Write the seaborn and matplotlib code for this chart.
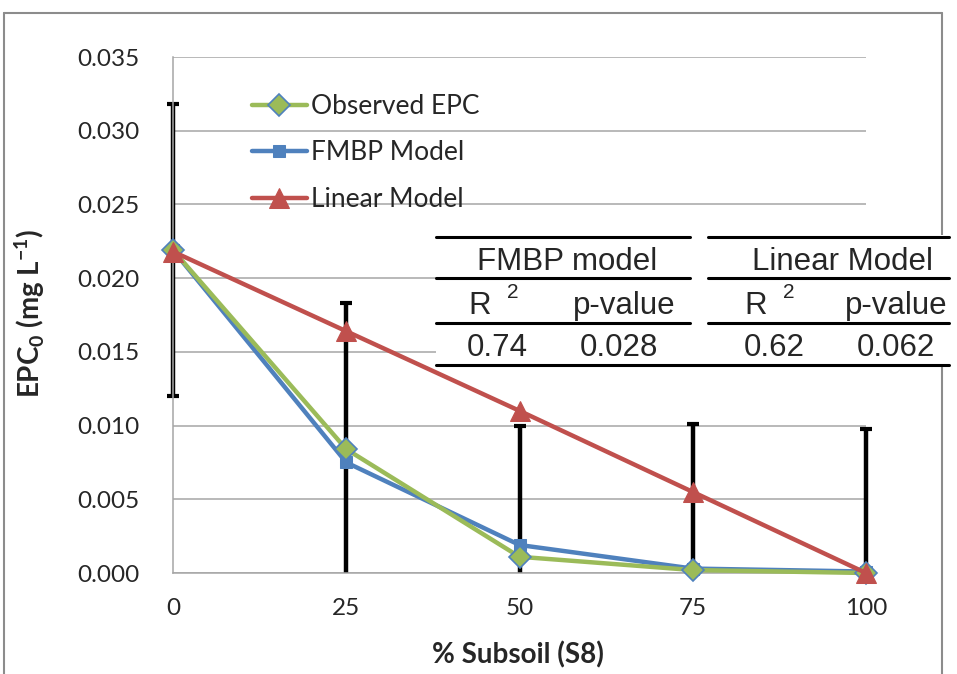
import matplotlib
matplotlib.use("Agg")
import matplotlib.pyplot as plt
import seaborn as sns
import pandas as pd
from matplotlib.lines import Line2D
from matplotlib.patches import Rectangle

# ---- data ----
subsoil = [0, 25, 50, 75, 100]
observed = [0.0219, 0.0084, 0.0011, 0.0002, 0.0000]
fmbp = [0.0219, 0.0075, 0.0019, 0.0003, 0.0001]
linear = [0.0218, 0.0164, 0.0110, 0.0055, 0.0000]
obs_err = [0.0099, 0.0099, 0.0089, 0.0099, 0.0098]
series_names = ["Observed EPC", "FMBP Model", "Linear Model"]
y_ticks = [0.000, 0.005, 0.010, 0.015, 0.020, 0.025, 0.030, 0.035]
x_ticks = [0, 25, 50, 75, 100]
table_headers = ["FMBP model", "Linear Model"]
table_cols = ["p-value", "p-value"]
table_vals = ["0.74", "0.028", "0.62", "0.062"]

sns.set_style("white")
plt.rcParams["font.family"] = ["Lato", "DejaVu Sans"]
plt.rcParams["mathtext.fontset"] = "custom"
plt.rcParams["mathtext.rm"] = "Lato"
plt.rcParams["mathtext.bf"] = "Lato:bold"

W, H = 957, 674
fig = plt.figure(figsize=(W / 100, H / 100), dpi=100)
fx = lambda px: px / W
fy = lambda py: 1 - py / H

x0, x1, y0, y1 = 173, 866, 573, 57
ax = fig.add_axes([fx(x0), fy(y0), fx(x1) - fx(x0), fy(y1) - fy(y0)])
axx = lambda px: (px - x0) / (x1 - x0)
axy = lambda py: (y0 - py) / (y0 - y1)

colors = ["#9BBB59", "#4F81BD", "#C0504D"]
df = pd.DataFrame({
    "x": subsoil * 3,
    "y": observed + fmbp + linear,
    "series": [series_names[0]] * 5 + [series_names[1]] * 5 + [series_names[2]] * 5,
})

# error bars (lower part clipped at zero, as in the original)
lower = [min(e, v) for e, v in zip(obs_err, observed)]
eb = ax.errorbar(subsoil, observed, yerr=[lower, obs_err], fmt="none", ecolor="black",
                 elinewidth=3.2, capsize=4, capthick=3, zorder=2, clip_on=False)
eb[1][0].set_markevery([i for i, (e, v) in enumerate(zip(obs_err, observed)) if e <= v])
for art in eb[1]:
    art.set_clip_on(False)
for art in eb[2]:
    art.set_clip_on(False)

styles = [
    dict(marker="D", markersize=11, markerfacecolor=colors[0], markeredgecolor="#4F81BD", markeredgewidth=1.2, zorder=4),
    dict(marker="s", markersize=9, markerfacecolor=colors[1], markeredgecolor=colors[1], zorder=3),
    dict(marker="^", markersize=14, markerfacecolor=colors[2], markeredgecolor=colors[2], zorder=5),
]
for name, c, st in zip(series_names, colors, styles):
    sub = df[df["series"] == name]
    sns.lineplot(data=sub, x="x", y="y", ax=ax, color=c, linewidth=3.2,
                 label=name, **st)
for ln in ax.lines:
    ln.set_clip_on(False)

ax.set_xlim(0, 100)
ax.set_ylim(0, 0.035)
ax.set_xticks(x_ticks)
ax.set_xticklabels([str(v) for v in x_ticks], fontsize=17.5)
ax.set_yticks(y_ticks)
ax.set_yticklabels([f"{v:.3f}" for v in y_ticks], fontsize=17.5)
ax.tick_params(axis="both", length=0)
ax.tick_params(axis="y", pad=24)
ax.tick_params(axis="x", pad=18)
ax.grid(axis="y", color="#A6A6A6", linewidth=1.1)
ax.set_axisbelow(True)
for s in ["top", "right"]:
    ax.spines[s].set_visible(False)
for s in ["left", "bottom"]:
    ax.spines[s].set_color("#A6A6A6")
    ax.spines[s].set_linewidth(1.1)

ax.set_xlabel("% Subsoil (S8)", fontsize=20, fontweight="bold")
ax.set_ylabel(r"EPC$_\mathbf{0}$ (mg L$^\mathbf{-1}$)", fontsize=20, fontweight="bold")
ax.xaxis.label.set_va("center")
ax.yaxis.label.set_va("center")
ax.xaxis.set_label_coords(axx(518), axy(655))
ax.yaxis.set_label_coords(axx(30), axy(313))

leg = ax.legend(loc="upper left", bbox_to_anchor=(fx(228), fy(70)), bbox_transform=fig.transFigure,
                frameon=False, fontsize=19, handlelength=2.1, handletextpad=0.15, labelspacing=0.82)

# ---- outer chart border ----
bc = "#8C8C8C"
fig.add_artist(Line2D([fx(4), fx(942)], [fy(13), fy(13)], color=bc, lw=1.5))
fig.add_artist(Line2D([fx(4), fx(4)], [fy(13), fy(680)], color=bc, lw=1.5))
fig.add_artist(Line2D([fx(942), fx(942)], [fy(13), fy(680)], color=bc, lw=1.5))

# ---- stats table ----
fig.add_artist(Rectangle((fx(436), fy(367)), fx(951) - fx(436), fy(235) - fy(367),
                         facecolor="white", edgecolor="none", zorder=10))
tl = dict(color="black", lw=2.2, zorder=11)
for yy in [237, 278, 323]:
    fig.add_artist(Line2D([fx(436), fx(690)], [fy(yy), fy(yy)], **tl))
    fig.add_artist(Line2D([fx(708), fx(949)], [fy(yy), fy(yy)], **tl))
fig.add_artist(Line2D([fx(436), fx(949)], [fy(365), fy(365)], **tl))

tf = dict(family="Liberation Sans", fontsize=22.5, ha="center", va="center", zorder=12)
sf = dict(family="Liberation Sans", fontsize=15, ha="center", va="center", zorder=12)
fig.text(fx(567), fy(262), table_headers[0], **tf)
fig.text(fx(842), fy(262), table_headers[1], **tf)
fig.text(fx(480), fy(306), "R", **tf)
fig.text(fx(513), fy(293), "2", **sf)
fig.text(fx(624), fy(306), table_cols[0], **tf)
fig.text(fx(756), fy(306), "R", **tf)
fig.text(fx(789), fy(293), "2", **sf)
fig.text(fx(896), fy(306), table_cols[1], **tf)
for v, xc in zip(table_vals, [497, 619, 774, 896]):
    fig.text(fx(xc), fy(348), v, **tf)

fig.savefig("out.png", dpi=100)
